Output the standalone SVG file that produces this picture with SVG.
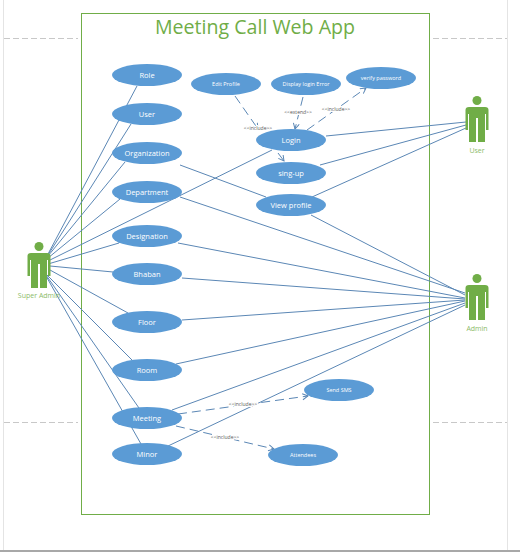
<svg xmlns="http://www.w3.org/2000/svg" width="520" height="552" viewBox="0 0 520 552">
<defs>
<marker id="arr" markerWidth="8" markerHeight="8" refX="6" refY="3.5" orient="auto" markerUnits="userSpaceOnUse"><path d="M0.5 0.5L6 3.5L0.5 6.5" fill="none" stroke="#5b87b5" stroke-width="1"/></marker>
<g id="person"><circle cx="0" cy="-21.500" r="4.500"/><path d="M-11.500 -12Q-11.500 -15 -8 -15H8Q11.500 -15 11.500 -12V8H9V-8H8V20H1V-4H-1V20H-8V-8H-9V8H-11.500Z"/></g>
</defs>
<style>
text{font-family:"Open Sans","Liberation Sans",sans-serif;text-anchor:middle}
.g line{stroke:#c8c8c8;stroke-width:1;stroke-dasharray:6 3}
.e{fill:#5b9bd5}
.t{fill:#fff;font-size:7.500px}
.s{fill:#fff;font-size:5.500px}
.c line{stroke:#5b87b5;stroke-width:1}
.d line{stroke:#5b87b5;stroke-width:1;stroke-dasharray:9 5;marker-end:url(#arr)}
.lab{fill:#555;font-size:5px;stroke:#fff;stroke-width:2px;paint-order:stroke}
.a{fill:#70ad47}
.al{fill:#8cbb69;font-size:7px}
</style>
<rect width="520" height="552" fill="#fff"/>
<g class="g">
<line x1="4" y1="38.500" x2="78" y2="38.500"/><line x1="433" y1="38.500" x2="507" y2="38.500"/>
<line x1="4" y1="422.500" x2="78" y2="422.500"/><line x1="433" y1="422.500" x2="507" y2="422.500"/>
<line x1="3.500" y1="0" x2="3.500" y2="550" style="stroke:#e4e4e4;stroke-dasharray:none"/>
<line x1="507.500" y1="0" x2="507.500" y2="550" style="stroke:#e4e4e4;stroke-dasharray:none"/>
<line x1="0" y1="551" x2="520" y2="551" style="stroke:#a8a8a8;stroke-width:2;stroke-dasharray:none"/>
</g>
<rect id="boundary" x="81.500" y="13.500" width="348" height="501" fill="#fff" stroke="#70ad47" stroke-width="1"/>
<text id="title" x="255" y="34" fill="#70ad47" style="font-size:19.600px">Meeting Call Web App</text>
<g id="connectors">
<g class="c">
<line x1="48" y1="254" x2="137" y2="86"/><line x1="48" y1="255" x2="131" y2="124"/>
<line x1="48" y1="256" x2="125" y2="162"/><line x1="48" y1="258" x2="120" y2="199"/>
<line x1="48" y1="261" x2="272" y2="150"/><line x1="48" y1="264" x2="119" y2="243"/>
<line x1="50" y1="266" x2="113" y2="272"/><line x1="50" y1="270" x2="128" y2="313"/>
<line x1="46" y1="274" x2="132" y2="360"/><line x1="46" y1="275" x2="139" y2="408"/>
<line x1="46" y1="276" x2="141" y2="444"/>
<line x1="180" y1="165" x2="266" y2="197"/>
<line x1="326" y1="136" x2="466" y2="122"/><line x1="320" y1="165" x2="466" y2="125"/><line x1="312" y1="197" x2="466" y2="128"/>
<line x1="311" y1="215" x2="465" y2="295"/>
<line x1="180" y1="197" x2="465" y2="293"/>
<line x1="178" y1="243" x2="465" y2="298"/>
<line x1="182" y1="278" x2="465" y2="299"/>
<line x1="182" y1="320" x2="465" y2="300"/>
<line x1="176" y1="364" x2="465" y2="301"/>
<line x1="172" y1="410" x2="465" y2="303"/>
<line x1="168" y1="446" x2="465" y2="305"/>
</g>
<g class="d">
<line x1="235" y1="96" x2="258" y2="129"/>
<line x1="303" y1="97" x2="295" y2="129"/>
<line x1="307" y1="130" x2="366" y2="88"/>
<line x1="278" y1="153" x2="284" y2="161" style="stroke-dasharray:none"/>
<line x1="178" y1="414" x2="308" y2="396"/>
<line x1="176" y1="426" x2="274" y2="449"/>
</g>
</g>
<g class="lab">
<text x="258" y="130">&lt;&lt;include&gt;&gt;</text>
<text x="298" y="114">&lt;&lt;extend&gt;&gt;</text>
<text x="336" y="111">&lt;&lt;include&gt;&gt;</text>
<text x="243" y="406">&lt;&lt;include&gt;&gt;</text>
<text x="225" y="439">&lt;&lt;include&gt;&gt;</text>
</g>
<g id="n-role"><ellipse class="e" cx="147" cy="75" rx="35" ry="11"/><text class="t" x="147" y="78">Role</text></g>
<g id="n-user"><ellipse class="e" cx="147" cy="114" rx="35" ry="11"/><text class="t" x="147" y="117">User</text></g>
<g id="n-organization"><ellipse class="e" cx="147" cy="153" rx="35" ry="11"/><text class="t" x="147" y="156">Organization</text></g>
<g id="n-department"><ellipse class="e" cx="147" cy="192" rx="35" ry="11"/><text class="t" x="147" y="195">Department</text></g>
<g id="n-designation"><ellipse class="e" cx="147" cy="236" rx="35" ry="11"/><text class="t" x="147" y="239">Designation</text></g>
<g id="n-bhaban"><ellipse class="e" cx="147" cy="274" rx="35" ry="11"/><text class="t" x="147" y="277">Bhaban</text></g>
<g id="n-floor"><ellipse class="e" cx="147" cy="322" rx="35" ry="11"/><text class="t" x="147" y="325">Floor</text></g>
<g id="n-room"><ellipse class="e" cx="147" cy="370" rx="35" ry="11"/><text class="t" x="147" y="373">Room</text></g>
<g id="n-meeting"><ellipse class="e" cx="147" cy="418" rx="35" ry="11"/><text class="t" x="147" y="421">Meeting</text></g>
<g id="n-minor"><ellipse class="e" cx="147" cy="454" rx="35" ry="11"/><text class="t" x="147" y="457">Minor</text></g>
<g id="n-edit"><ellipse class="e" cx="226" cy="84" rx="35" ry="11"/><text class="s" x="226" y="86">Edit Profile</text></g>
<g id="n-display"><ellipse class="e" cx="306" cy="84" rx="35" ry="11"/><text class="s" x="306" y="86">Display login Error</text></g>
<g id="n-verify"><ellipse class="e" cx="381" cy="78" rx="35" ry="11"/><text class="s" x="381" y="80">verify password</text></g>
<g id="n-login"><ellipse class="e" cx="291" cy="140" rx="35" ry="11"/><text class="t" x="291" y="143">Login</text></g>
<g id="n-signup"><ellipse class="e" cx="291" cy="173" rx="35" ry="11"/><text class="t" x="291" y="176">sing-up</text></g>
<g id="n-view"><ellipse class="e" cx="291" cy="205" rx="35" ry="11"/><text class="t" x="291" y="208">View profile</text></g>
<g id="n-sms"><ellipse class="e" cx="339" cy="390" rx="35" ry="11"/><text class="s" x="339" y="392">Send SMS</text></g>
<g id="n-attendees"><ellipse class="e" cx="303" cy="455" rx="35" ry="11"/><text class="s" x="303" y="457">Attendees</text></g>
<g id="a-super"><use href="#person" class="a" x="39" y="268"/><text class="al" x="39" y="298">Super Admin</text></g>
<g id="a-user"><use href="#person" class="a" x="477" y="122"/><text class="al" x="477" y="153">User</text></g>
<g id="a-admin"><use href="#person" class="a" x="477" y="300"/><text class="al" x="477" y="331">Admin</text></g>
</svg>
